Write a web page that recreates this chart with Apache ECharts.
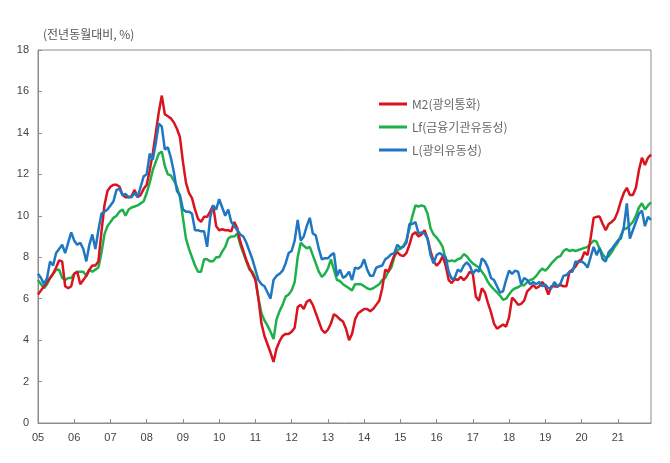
<!DOCTYPE html>
<html>
<head>
<meta charset="utf-8">
<script src="https://cdn.jsdelivr.net/npm/echarts@6/dist/echarts.min.js"></script>
<style>html,body{margin:0;padding:0;background:#fff}#c{width:670px;height:463px}</style>
</head>
<body>
<div id="c"></div>
<script>
const yearLabels = ['05','06','07','08','09','10','11','12','13','14','15','16','17','18','19','20','21'];
const seriesNames = ['M2(광의통화)', 'Lf(금융기관유동성)', 'L(광의유동성)'];

const m2 = [
6.2,6.4,6.6,6.8,7.0,7.2,7.5,7.85,7.8,6.6,6.5,6.6,
7.2,7.3,6.7,6.9,7.1,7.4,7.6,7.6,7.8,9.2,10.5,11.2,
11.4,11.5,11.5,11.4,11.0,10.9,10.9,10.95,11.25,10.9,11.0,11.3,
11.5,12.2,13.0,14.0,15.0,15.8,14.9,14.8,14.7,14.5,14.2,13.8,
12.6,11.6,11.1,10.85,10.3,9.85,9.7,9.95,9.95,10.2,10.5,9.5,
9.3,9.35,9.3,9.3,9.25,9.7,9.4,8.75,8.3,7.85,7.5,7.2,
6.9,6.0,4.8,4.2,3.8,3.4,2.95,3.6,3.95,4.2,4.3,4.3,
4.4,4.6,5.6,5.7,5.5,5.85,5.95,5.7,5.3,4.9,4.5,4.35,
4.5,4.8,5.25,5.15,5.0,4.9,4.55,4.0,4.3,5.0,5.3,5.4,
5.5,5.5,5.4,5.5,5.7,5.9,6.5,7.4,7.3,7.7,8.1,8.25,
8.1,8.05,8.2,8.6,9.1,9.2,9.0,9.1,9.3,8.9,8.3,7.8,
7.6,7.75,8.05,7.6,6.9,6.75,6.95,6.9,7.05,6.9,7.05,7.3,
7.2,6.1,5.9,6.5,6.3,5.8,5.35,4.8,4.55,4.65,4.75,4.65,
5.1,6.05,5.9,5.7,5.75,5.9,6.35,6.5,6.66,6.5,6.6,6.8,
6.6,6.2,6.6,6.6,6.58,6.66,6.6,6.6,7.3,7.4,7.55,7.8,
7.9,8.25,8.1,8.9,9.9,9.95,9.96,9.6,9.3,9.6,9.7,9.85,
10.2,10.7,11.1,11.35,11.0,11.0,11.35,12.2,12.8,12.45,12.8,12.95
];

const lf = [
6.9,6.7,6.5,6.7,7.0,7.2,7.4,7.4,7.0,6.9,7.0,7.0,
7.2,7.3,7.3,7.3,7.1,7.4,7.3,7.4,7.5,8.2,9.1,9.5,
9.7,9.9,10.0,10.2,10.3,10.0,10.3,10.4,10.45,10.5,10.6,10.7,
11.1,11.6,12.2,12.6,13.0,13.1,12.4,12.0,11.95,11.7,11.4,10.9,
9.9,8.9,8.4,8.0,7.6,7.3,7.3,7.9,7.9,7.8,7.8,8.0,
8.0,8.27,8.5,8.9,9.0,9.0,9.15,8.6,8.2,7.8,7.4,7.3,
7.0,6.0,5.3,4.95,4.7,4.4,4.05,5.0,5.4,5.7,6.1,6.2,
6.4,6.8,8.0,8.7,8.55,8.43,8.5,8.1,7.7,7.3,7.05,7.2,
7.45,7.9,7.4,6.9,6.85,6.7,6.6,6.5,6.4,6.7,6.7,6.7,
6.6,6.5,6.45,6.5,6.6,6.7,6.9,7.0,7.3,7.5,8.0,8.35,
8.4,8.55,8.8,9.4,10.0,10.5,10.45,10.5,10.45,10.1,9.4,9.1,
8.95,8.75,8.5,7.9,7.8,7.85,7.8,7.9,7.95,8.15,8.05,7.85,
7.7,7.6,7.5,7.3,7.1,6.8,6.6,6.45,6.3,6.15,5.95,6.0,
6.2,6.4,6.5,6.55,6.65,6.65,6.8,6.9,6.95,7.1,7.3,7.45,
7.35,7.5,7.7,7.85,8.0,8.05,8.3,8.4,8.3,8.35,8.3,8.35,
8.4,8.45,8.5,8.65,8.8,8.75,8.4,8.15,7.95,8.05,8.25,8.5,
8.7,9.05,9.35,9.4,9.55,9.7,10.0,10.4,10.6,10.3,10.5,10.65
];

const lq = [
7.2,7.0,6.7,7.0,7.8,7.6,8.2,8.4,8.6,8.2,8.7,9.2,
8.8,8.6,8.7,8.4,7.8,8.6,9.1,8.4,9.3,10.1,10.2,10.3,
10.5,10.7,11.25,11.3,11.0,11.05,10.9,10.9,11.1,10.9,11.4,11.9,
12.0,13.0,12.7,13.5,14.45,14.3,13.2,13.3,12.8,12.1,11.2,11.0,
10.3,10.2,10.2,10.1,9.3,9.3,9.25,9.25,8.5,9.9,10.5,10.3,
10.8,10.4,10.0,10.3,9.7,9.5,9.3,9.1,9.0,8.7,8.3,7.9,
7.4,6.9,6.7,6.6,6.3,6.0,6.9,7.1,7.2,7.35,7.7,8.2,
8.3,8.8,9.8,8.8,9.0,9.5,9.9,9.15,9.05,8.4,7.9,7.95,
7.95,8.1,8.2,7.1,7.4,7.0,7.1,7.3,6.9,7.5,7.45,7.55,
7.9,7.4,7.1,7.1,7.5,7.55,7.6,7.9,8.0,8.15,8.2,8.6,
8.45,8.5,8.7,9.6,9.6,9.7,9.15,9.2,9.15,8.9,8.1,7.7,
8.1,8.2,8.1,8.0,7.3,6.95,7.0,7.4,7.3,7.6,7.75,7.6,
7.2,7.4,7.3,7.95,7.8,7.5,7.0,6.9,6.6,6.3,6.35,6.9,
7.35,7.2,7.35,7.3,6.7,7.0,6.9,6.7,6.8,6.7,6.8,6.6,
6.68,6.5,6.5,6.8,6.6,6.72,7.1,7.14,7.3,7.3,7.8,7.75,
7.8,7.7,7.5,8.0,8.5,8.1,8.45,7.9,7.8,8.25,8.4,8.6,
8.8,8.9,9.45,10.6,8.9,9.3,9.7,10.1,10.25,9.5,9.95,9.8
];

const categories = [];
yearLabels.forEach(y => { for (let m = 1; m <= 12; m++) categories.push(y + '.' + String(m).padStart(2, '0')); });

const colors = { m2: '#d9141e', lf: '#1db04b', lq: '#1f77c4' };
const numFont = '"Liberation Sans", Arial, sans-serif';
const krFont = '"Noto Sans CJK KR", sans-serif';

const chart = echarts.init(document.getElementById('c'), null, { renderer: 'canvas' });
chart.setOption({
  animation: false,
  backgroundColor: '#fff',
  title: {
    text: '(전년동월대비, %)',
    left: 38, top: 23,
    textStyle: { fontFamily: krFont, fontSize: 12, fontWeight: 'normal', color: '#555' }
  },
  legend: {
    orient: 'vertical',
    left: 374, top: 93,
    itemWidth: 28, itemHeight: 3, itemGap: 11,
    icon: 'rect',
    data: seriesNames,
    textStyle: { fontFamily: krFont, fontSize: 12, color: '#666' }
  },
  grid: { left: 38, right: 19, top: 50, bottom: 40, show: true, borderColor: '#8c8c8c', borderWidth: 1 },
  xAxis: {
    type: 'category',
    data: categories,
    boundaryGap: false,
    axisLine: { lineStyle: { color: '#8c8c8c', width: 1 } },
    axisTick: { inside: true, length: 4, interval: (i) => i % 12 === 0, lineStyle: { color: '#8c8c8c' } },
    axisLabel: {
      interval: (i) => i % 12 === 0,
      formatter: (v) => v.slice(0, 2),
      fontFamily: numFont, fontSize: 11, color: '#444', margin: 9
    },
    splitLine: { show: false }
  },
  yAxis: {
    type: 'value',
    min: 0, max: 18, interval: 2,
    axisLine: { show: true, lineStyle: { color: '#8c8c8c', width: 1 } },
    axisTick: { show: true, inside: true, length: 4, lineStyle: { color: '#8c8c8c' } },
    axisLabel: { fontFamily: numFont, fontSize: 11, color: '#444', margin: 9 },
    splitLine: { show: false }
  },
  series: [
    { name: seriesNames[1], type: 'line', data: lf, symbol: 'none', lineStyle: { color: colors.lf, width: 2.5 }, itemStyle: { color: colors.lf }, z: 2 },
    { name: seriesNames[0], type: 'line', data: m2, symbol: 'none', lineStyle: { color: colors.m2, width: 2.5 }, itemStyle: { color: colors.m2 }, z: 3 },
    { name: seriesNames[2], type: 'line', data: lq, symbol: 'none', lineStyle: { color: colors.lq, width: 2.5 }, itemStyle: { color: colors.lq }, z: 4 }
  ]
});
</script>
</body>
</html>
